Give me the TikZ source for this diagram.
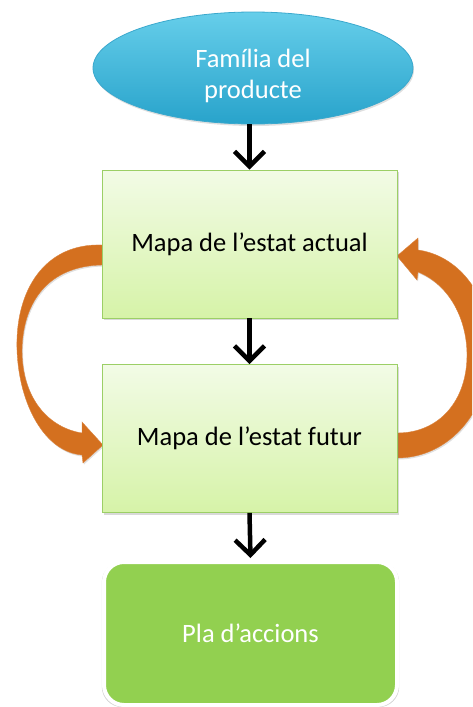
\documentclass[tikz,border=0pt]{standalone}
\usepackage{fontspec}
\setmainfont{Carlito}
\usetikzlibrary{arrows.meta,shapes.geometric,shadows}

\definecolor{famtop}{HTML}{66CEEA}
\definecolor{fambot}{HTML}{28A3CB}
\definecolor{famline}{HTML}{3AA8CD}
\definecolor{boxtop}{HTML}{F2FBE6}
\definecolor{boxbot}{HTML}{D6F3A8}
\definecolor{boxline}{HTML}{9CCF66}
\definecolor{plafill}{HTML}{92D050}
\definecolor{loop}{HTML}{D4701F}

\tikzset{
  txt/.style={font=\fontsize{26.5}{31}\selectfont, align=center},
  famnode/.style={ellipse, draw=famline, line width=0.8pt,
    top color=famtop, bottom color=fambot, minimum width=320pt, minimum height=112pt,
    drop shadow={opacity=0.25, shadow xshift=1pt, shadow yshift=-2pt}},
  mapbox/.style={txt, rectangle, draw=boxline, line width=0.8pt, inner sep=0pt,
    top color=boxtop, bottom color=boxbot, minimum width=295pt, minimum height=148pt,
    drop shadow={opacity=0.3, shadow xshift=1.5pt, shadow yshift=-2pt}},
  planbox/.style={txt, rectangle, rounded corners=20pt, fill=plafill, draw=white,
    line width=4pt, text=white, inner sep=0pt, minimum width=293pt, minimum height=143pt,
    drop shadow={opacity=0.35, shadow xshift=0pt, shadow yshift=-1pt, shadow scale=1.015}},
  flow/.style={line width=4.5pt, -{Straight Barb[length=15pt,width=30pt]}},
  loopshape/.style={fill=loop, draw=loop!85!white, line width=0.4pt,
    drop shadow={opacity=0.25, shadow xshift=1pt, shadow yshift=-1.5pt}}
}

\begin{document}
\begin{tikzpicture}[x=1pt, y=-1pt]
\useasboundingbox (0,0) rectangle (472,707);

\begin{scope}
  \clip (0,0) rectangle (472,707);
  % loop arrow on the left: from the current state down to the future state
  \path[loopshape]
    (102,245) .. controls (45,243) and (15,290) .. (17,350)
    .. controls (19,405) and (45,452) .. (82,455)
    -- (83,463) -- (103,445) -- (82,422) -- (82,433)
    .. controls (50,428) and (22,400) .. (22,350)
    .. controls (23,300) and (50,266) .. (102,265) -- cycle;
  % loop arrow on the right: from the future state back up to the current state
  \path[loopshape]
    (397,458) .. controls (450,458) and (490,410) .. (490,350)
    .. controls (490,290) and (455,255) .. (418,250)
    -- (418,238) -- (397,256) -- (417,280) -- (418,272)
    .. controls (450,285) and (467,320) .. (467,355)
    .. controls (467,400) and (440,433) .. (397,433) -- cycle;
\end{scope}

\node[famnode] (fam) at (253,68) {};
\node[txt, text=white] (famtxt) at ([yshift=-8pt]fam.center) {Família del\\producte};
\node[mapbox] (act) at (249.5,244) {Mapa de l’estat actual};
\node[mapbox] (fut) at (249.5,438.5) {Mapa de l’estat futur};
\node[planbox] (pla) at (250.5,633.5) {Pla d’accions};

\draw[flow] (act.north |- fam.south) -- (act.north);
\draw[flow] (act.south) -- (fut.north);
\draw[flow] (fut.south) -- ([yshift=2pt]pla.north);
\end{tikzpicture}
\end{document}
